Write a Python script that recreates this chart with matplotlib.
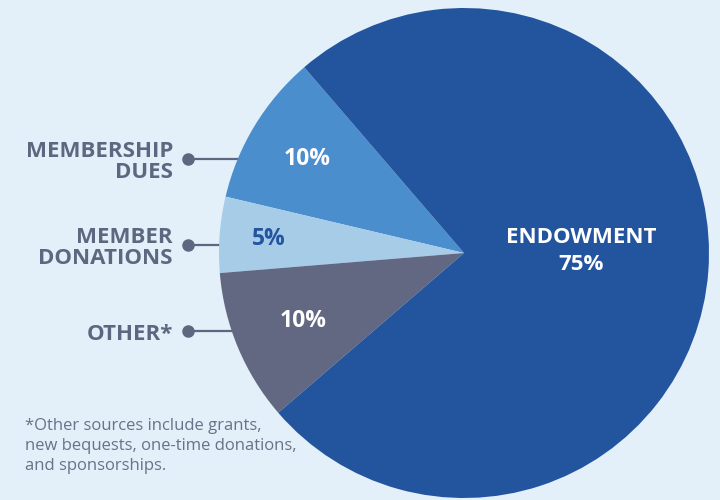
import matplotlib.pyplot as plt
import numpy as np

# data
labels = ["MEMBERSHIP\nDUES", "MEMBER\nDONATIONS", "OTHER*", "ENDOWMENT"]
shares = [10, 5, 10, 75]
colors = ["#4A8ECD", "#A7CCE8", "#636882", "#23559F"]
pct_colors = ["white", "#23559F", "white", "white"]
pct_dist = [0.75, 0.80, 0.71, 0.48]
side_y = [159, 245, 331]   # y (px from top) of the left callouts
footnote = "*Other sources include grants,\nnew bequests, one-time donations,\nand sponsorships."

bg = "#E3EFF9"
txt = "#5F6680"

fig = plt.figure(figsize=(7.2, 5.0), dpi=100, facecolor=bg)
ax = fig.add_axes([0, 0, 1, 1])

cx, cy, r = 464, 500 - 253, 245
start = 130.7
wedges, _ = ax.pie(shares, colors=colors, startangle=start, counterclock=True,
                   center=(cx, cy), radius=r, frame=True,
                   wedgeprops=dict(linewidth=0))
ax.set_xlim(0, 720)
ax.set_ylim(0, 500)
ax.set_aspect("equal")
ax.axis("off")

font = "Open Sans"

# percent labels inside wedges
for w, s, c, d, lab in zip(wedges, shares, pct_colors, pct_dist, labels):
    mid = np.deg2rad((w.theta1 + w.theta2) / 2)
    x = cx + d * r * np.cos(mid)
    y = cy + d * r * np.sin(mid)
    if lab == "ENDOWMENT":
        ax.text(x, y + 11, f"ENDOWMENT\n{s}%", color=c, fontsize=16, fontweight="bold",
                family=font, ha="center", va="center", linespacing=1.35)
    else:
        ax.text(x, y - 1, f"{s}%", color=c, fontsize=16.5, fontweight="bold", family=font,
                ha="center", va="center")

# left callouts
for lab, yy in zip(labels[:3], side_y):
    y = 500 - yy
    xe = cx - np.sqrt(r**2 - (y - cy)**2)
    ax.plot([188, xe + 2], [y, y], color=txt, lw=1.6, zorder=0.5)
    ax.plot(188, y, "o", color=txt, ms=8, zorder=3)
    ax.text(173, y - 3, lab, color=txt, fontsize=16, fontweight="bold", family=font,
            ha="right", va="center", linespacing=0.95)

ax.text(25, 500 - 446, footnote, color="#6B7188", fontsize=12, family=font,
        ha="left", va="center", linespacing=1.35)

fig.savefig("out.png", dpi=100, facecolor=bg)
